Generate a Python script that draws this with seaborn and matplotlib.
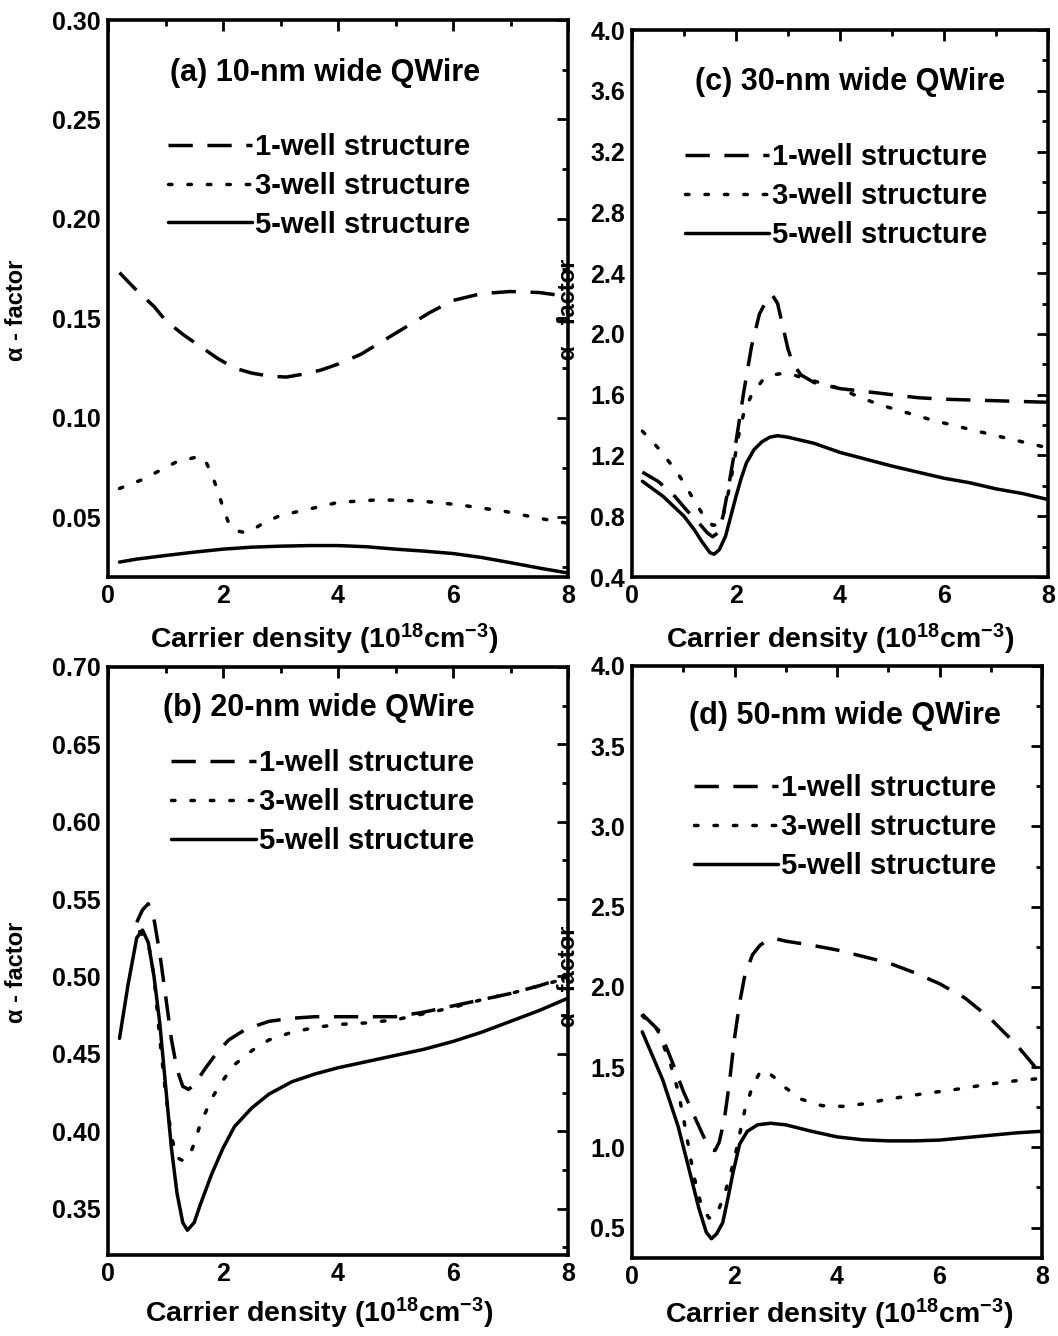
import numpy as np
import pandas as pd
import matplotlib
matplotlib.use("Agg")
import matplotlib.pyplot as plt
import seaborn as sns
from matplotlib.ticker import MultipleLocator, FormatStrFormatter

# ---------------- data ----------------
LABELS = ["1-well structure", "3-well structure", "5-well structure"]
XLABEL = "Carrier density (10$^{18}$cm$^{-3}$)"
YLABEL = "α - factor"

# (a) 10-nm wide QWire
a1_x = [0.2, 0.5, 0.8, 1.0, 1.3, 1.6, 1.9, 2.2, 2.5, 2.8, 3.1, 3.4, 3.7, 4.0, 4.4, 4.8, 5.2, 5.6, 6.0, 6.5, 7.0, 7.5, 8.0]
a1_y = [0.173, 0.164, 0.156, 0.149, 0.142, 0.136, 0.130, 0.125, 0.1225, 0.121, 0.1205, 0.122, 0.124, 0.127, 0.132, 0.139, 0.146, 0.153, 0.159, 0.1625, 0.1635, 0.163, 0.161]
a3_x = [0.2, 0.6, 0.9, 1.2, 1.5, 1.6, 1.7, 1.8, 1.9, 2.0, 2.1, 2.2, 2.35, 2.5, 2.7, 3.0, 3.4, 4.0, 4.7, 5.4, 6.1, 6.9, 7.5, 8.0]
a3_y = [0.0645, 0.069, 0.0735, 0.078, 0.080, 0.0808, 0.078, 0.072, 0.064, 0.055, 0.047, 0.0435, 0.0425, 0.0435, 0.047, 0.051, 0.0535, 0.0575, 0.0588, 0.0583, 0.0563, 0.053, 0.0495, 0.047]
a5_x = [0.2, 0.5, 1.0, 1.5, 2.0, 2.5, 3.0, 3.5, 4.0, 4.5, 5.0, 5.5, 6.0, 6.5, 7.0, 7.5, 8.0]
a5_y = [0.0275, 0.029, 0.0308, 0.0325, 0.034, 0.035, 0.0355, 0.0358, 0.0358, 0.0352, 0.034, 0.033, 0.0318, 0.0298, 0.0272, 0.0245, 0.022]

# (b) 20-nm wide QWire
b1_x = [0.5, 0.6, 0.7, 0.8, 0.9, 1.0, 1.1, 1.2, 1.3, 1.4, 1.5, 1.7, 1.9, 2.1, 2.4, 2.8, 3.2, 3.6, 4.0, 4.5, 5.0, 5.5, 6.0, 6.5, 7.0, 7.5, 8.0]
b1_y = [0.535, 0.543, 0.547, 0.537, 0.515, 0.488, 0.460, 0.440, 0.429, 0.427, 0.430, 0.441, 0.451, 0.459, 0.466, 0.471, 0.473, 0.474, 0.474, 0.474, 0.474, 0.477, 0.481, 0.485, 0.489, 0.494, 0.500]
b3_x = [0.55, 0.7, 0.8, 0.9, 1.0, 1.1, 1.2, 1.3, 1.4, 1.5, 1.6, 1.8, 2.0, 2.2, 2.5, 2.8, 3.2, 3.6, 4.0, 4.5, 5.0, 5.5, 6.0, 6.5, 7.0, 7.5, 8.0]
b3_y = [0.529, 0.522, 0.500, 0.460, 0.425, 0.397, 0.383, 0.381, 0.383, 0.392, 0.404, 0.421, 0.433, 0.443, 0.452, 0.459, 0.464, 0.467, 0.469, 0.470, 0.472, 0.476, 0.480, 0.485, 0.489, 0.494, 0.499]
b5_x = [0.2, 0.35, 0.5, 0.6, 0.7, 0.8, 0.9, 1.0, 1.1, 1.2, 1.3, 1.38, 1.5, 1.6, 1.8, 2.0, 2.2, 2.5, 2.8, 3.2, 3.6, 4.0, 4.5, 5.0, 5.5, 6.0, 6.5, 7.0, 7.5, 8.0]
b5_y = [0.460, 0.495, 0.525, 0.530, 0.522, 0.500, 0.470, 0.430, 0.390, 0.360, 0.341, 0.336, 0.341, 0.352, 0.372, 0.389, 0.403, 0.415, 0.424, 0.432, 0.437, 0.441, 0.445, 0.449, 0.453, 0.458, 0.464, 0.471, 0.478, 0.486]

# (c) 30-nm wide QWire
c1_x = [0.2, 0.5, 0.8, 1.05, 1.3, 1.45, 1.55, 1.65, 1.75, 1.85, 1.95, 2.05, 2.15, 2.3, 2.45, 2.6, 2.7, 2.8, 2.9, 3.0, 3.1, 3.25, 3.5, 4.0, 4.5, 5.0, 5.5, 6.0, 6.5, 7.0, 7.5, 8.0]
c1_y = [1.09, 1.03, 0.94, 0.84, 0.75, 0.69, 0.665, 0.69, 0.80, 0.98, 1.18, 1.40, 1.62, 1.92, 2.13, 2.23, 2.255, 2.20, 2.05, 1.90, 1.80, 1.73, 1.68, 1.64, 1.62, 1.60, 1.58, 1.57, 1.565, 1.56, 1.555, 1.55]
c3_x = [0.2, 0.5, 0.8, 1.0, 1.2, 1.4, 1.55, 1.65, 1.75, 1.85, 1.95, 2.05, 2.15, 2.3, 2.5, 2.7, 2.9, 3.1, 3.4, 3.7, 4.0, 4.4, 4.8, 5.2, 5.8, 6.4, 7.0, 7.5, 8.0]
c3_y = [1.36, 1.25, 1.12, 1.02, 0.90, 0.79, 0.74, 0.745, 0.80, 0.95, 1.13, 1.33, 1.48, 1.60, 1.69, 1.73, 1.74, 1.73, 1.70, 1.67, 1.64, 1.58, 1.53, 1.49, 1.43, 1.38, 1.33, 1.29, 1.25]
c5_x = [0.2, 0.6, 1.0, 1.2, 1.35, 1.5, 1.58, 1.68, 1.8, 1.9, 2.0, 2.1, 2.2, 2.35, 2.5, 2.65, 2.8, 3.0, 3.5, 4.0, 4.5, 5.0, 5.5, 6.0, 6.5, 7.0, 7.5, 8.0]
c5_y = [1.03, 0.93, 0.80, 0.71, 0.63, 0.56, 0.55, 0.58, 0.67, 0.80, 0.93, 1.05, 1.15, 1.24, 1.29, 1.32, 1.33, 1.32, 1.28, 1.22, 1.175, 1.13, 1.09, 1.05, 1.02, 0.98, 0.95, 0.91]

# (d) 50-nm wide QWire
d1_x = [0.2, 0.55, 0.8, 1.0, 1.25, 1.45, 1.55, 1.62, 1.7, 1.8, 1.9, 2.0, 2.1, 2.2, 2.35, 2.5, 2.65, 2.8, 3.0, 3.5, 4.0, 4.5, 5.0, 5.5, 6.0, 6.5, 7.0, 7.5, 8.0]
d1_y = [1.83, 1.72, 1.52, 1.35, 1.17, 1.03, 0.985, 0.98, 1.03, 1.17, 1.40, 1.68, 1.90, 2.07, 2.20, 2.26, 2.29, 2.30, 2.285, 2.26, 2.23, 2.19, 2.15, 2.09, 2.02, 1.93, 1.80, 1.64, 1.45]
d3_x = [0.2, 0.5, 0.75, 0.9, 1.0, 1.1, 1.2, 1.35, 1.5, 1.6, 1.7, 1.8, 1.9, 2.0, 2.1, 2.2, 2.35, 2.5, 2.6, 2.8, 3.0, 3.3, 3.7, 4.1, 4.5, 5.0, 5.6, 6.3, 7.0, 7.5, 8.0]
d3_y = [1.82, 1.73, 1.52, 1.35, 1.19, 1.01, 0.83, 0.64, 0.56, 0.56, 0.62, 0.70, 0.81, 0.93, 1.08, 1.23, 1.38, 1.47, 1.48, 1.43, 1.37, 1.30, 1.26, 1.255, 1.27, 1.30, 1.33, 1.36, 1.395, 1.415, 1.43]
d5_x = [0.2, 0.6, 0.9, 1.1, 1.3, 1.45, 1.55, 1.65, 1.77, 1.87, 1.97, 2.1, 2.25, 2.45, 2.7, 3.0, 3.5, 4.0, 4.5, 5.0, 5.5, 6.0, 6.5, 7.0, 7.5, 8.0]
d5_y = [1.72, 1.42, 1.13, 0.88, 0.625, 0.47, 0.43, 0.46, 0.53, 0.68, 0.84, 1.02, 1.10, 1.14, 1.15, 1.14, 1.10, 1.065, 1.047, 1.04, 1.04, 1.045, 1.06, 1.075, 1.09, 1.10]

# ---------------- style ----------------
sns.set_theme(style="white")
plt.rcParams["font.family"] = ["Liberation Sans", "DejaVu Sans"]
plt.rcParams.update({
    "font.weight": "bold",
    "axes.labelweight": "bold",
    "text.color": "black",
    "axes.labelcolor": "black",
    "xtick.color": "black",
    "ytick.color": "black",
    "axes.edgecolor": "black",
    "mathtext.fontset": "custom",
    "mathtext.rm": "Liberation Sans:bold",
    "mathtext.it": "Liberation Sans:bold",
    "mathtext.bf": "Liberation Sans:bold",
    "mathtext.default": "bf",
})

W, H = 1058, 1336
fig = plt.figure(figsize=(W / 100, H / 100), dpi=100)


def frac_rect(x0, x1, y0, y1):
    return [x0 / W, 1 - y1 / H, (x1 - x0) / W, (y1 - y0) / H]


panels = [
    dict(rect=frac_rect(108, 568, 20, 577), series=[(a1_x, a1_y), (a3_x, a3_y), (a5_x, a5_y)],
         ylim=(0.02, 0.30), ymaj=0.05, ymin=0.025, fmt="%.2f",
         title="(a) 10-nm wide QWire", tpos=(0.472, 0.905),
         leg=(0.13, 0.797), ylab=(-0.174, 0.479), xlab=(0.47, -0.08)),
    dict(rect=frac_rect(632, 1048, 30, 577), series=[(c1_x, c1_y), (c3_x, c3_y), (c5_x, c5_y)],
         ylim=(0.4, 4.0), ymaj=0.4, ymin=0.2, fmt="%.1f",
         title="(c) 30-nm wide QWire", tpos=(0.523, 0.905),
         leg=(0.127, 0.793), ylab=(-0.126, 0.49), xlab=(0.5, -0.082)),
    dict(rect=frac_rect(108, 568, 667, 1255), series=[(b1_x, b1_y), (b3_x, b3_y), (b5_x, b5_y)],
         ylim=(0.32, 0.70), ymaj=0.05, ymin=0.025, fmt="%.2f",
         title="(b) 20-nm wide QWire", tpos=(0.459, 0.93),
         leg=(0.137, 0.86), ylab=(-0.174, 0.48), xlab=(0.46, -0.07)),
    dict(rect=frac_rect(632, 1042, 666, 1258), series=[(d1_x, d1_y), (d3_x, d3_y), (d5_x, d5_y)],
         ylim=(0.31, 4.0), ymaj=0.5, ymin=0.25, fmt="%.1f",
         title="(d) 50-nm wide QWire", tpos=(0.52, 0.915),
         leg=(0.15, 0.817), ylab=(-0.128, 0.475), xlab=(0.505, -0.066)),
]

DASHES = {LABELS[0]: (7, 4.2), LABELS[1]: (1.0, 4.6), LABELS[2]: ""}
LW = 2.5

for p in panels:
    ax = fig.add_axes(p["rect"])
    frames = []
    for lab, (xs, ys) in zip(LABELS, p["series"]):
        frames.append(pd.DataFrame({"n": xs, "alpha": ys, "structure": lab}))
    df = pd.concat(frames, ignore_index=True)
    sns.lineplot(data=df, x="n", y="alpha", style="structure", style_order=LABELS,
                 dashes=DASHES, color="black", linewidth=LW, estimator=None,
                 sort=False, ax=ax, legend=True)
    # round caps for the dotted curve
    for ln in ax.lines:
        pat = ln._dash_pattern[1]
        if pat is not None and len(pat) == 2 and pat[0] < pat[1] / 2:
            ln.set_dash_capstyle("round")

    leg_old = ax.get_legend()
    handles = list(leg_old.legend_handles)
    texts = [t.get_text() for t in leg_old.get_texts()]
    leg_old.remove()
    pairs = [(h, t) for h, t in zip(handles, texts) if t in LABELS]
    for h, t in pairs:
        h.set_linewidth(LW)
        if t == LABELS[1]:
            h.set_dash_capstyle("round")
    ax.legend([h for h, _ in pairs], [t for _, t in pairs], loc="upper left",
              bbox_to_anchor=p["leg"], frameon=False, handlelength=2.9,
              handletextpad=0.1, labelspacing=0.37, borderpad=0, borderaxespad=0,
              prop={"size": 21, "weight": "bold"})

    ax.set_xlim(0, 8)
    ax.set_ylim(*p["ylim"])
    ax.xaxis.set_major_locator(MultipleLocator(2))
    ax.xaxis.set_minor_locator(MultipleLocator(1))
    ax.yaxis.set_major_locator(MultipleLocator(p["ymaj"]))
    ax.yaxis.set_minor_locator(MultipleLocator(p["ymin"]))
    ax.yaxis.set_major_formatter(FormatStrFormatter(p["fmt"]))
    ax.xaxis.set_major_formatter(FormatStrFormatter("%d"))
    ax.tick_params(which="both", direction="in", top=True, right=True,
                   width=2.0, labelsize=18, pad=5)
    ax.tick_params(which="major", length=8)
    ax.tick_params(which="minor", length=4)
    for lab in ax.get_xticklabels() + ax.get_yticklabels():
        lab.set_fontweight("bold")
    for s in ax.spines.values():
        s.set_linewidth(2.6)
        s.set_color("black")
    ax.set_xlabel(XLABEL, fontsize=20.5, fontweight="bold")
    ax.xaxis.set_label_coords(*p["xlab"])
    ax.set_ylabel(YLABEL, fontsize=17, fontweight="bold")
    ax.yaxis.set_label_coords(*p["ylab"])
    ax.text(p["tpos"][0], p["tpos"][1], p["title"], transform=ax.transAxes,
            ha="center", va="center", fontsize=22, fontweight="bold")

fig.savefig("out.png", dpi=100, facecolor="white")
